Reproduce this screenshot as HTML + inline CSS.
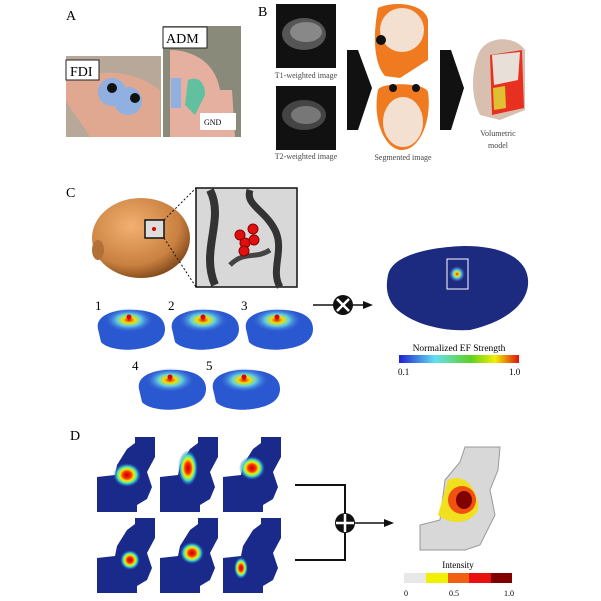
<!DOCTYPE html>
<html><head><meta charset="utf-8"><style>
html,body{margin:0;padding:0;background:#fff;}
svg{display:block;}
text{font-family:"Liberation Serif",serif;}
</style></head><body>
<svg width="601" height="601" viewBox="0 0 601 601" xmlns="http://www.w3.org/2000/svg">
<defs>
<linearGradient id="jet" x1="0" x2="1" y1="0" y2="0">
<stop offset="0" stop-color="#2020d0"/><stop offset="0.3" stop-color="#60e0f0"/><stop offset="0.6" stop-color="#60d020"/><stop offset="0.8" stop-color="#f0f000"/><stop offset="1" stop-color="#e01010"/>
</linearGradient>
<radialGradient id="head" cx="0.4" cy="0.35" r="0.7">
<stop offset="0" stop-color="#f2b070"/><stop offset="0.7" stop-color="#c98040"/><stop offset="1" stop-color="#7a4418"/>
</radialGradient>
<radialGradient id="hot" cx="0.5" cy="0.5" r="0.5">
<stop offset="0" stop-color="#c00000"/><stop offset="0.3" stop-color="#ff3000"/><stop offset="0.5" stop-color="#f0f000"/><stop offset="0.7" stop-color="#40e0c0"/><stop offset="1" stop-color="#3050e0" stop-opacity="0"/>
</radialGradient>
<radialGradient id="hot2" cx="0.5" cy="0.5" r="0.5">
<stop offset="0" stop-color="#e01010"/><stop offset="0.25" stop-color="#f0e000"/><stop offset="0.5" stop-color="#60d0e0"/><stop offset="1" stop-color="#4060e0" stop-opacity="0"/>
</radialGradient>
<g id="hm">
<path d="M0,40 L18,38 L20,28 L30,12 L38,6 L38,0 L58,0 L58,20 L50,35 L55,50 L50,62 L40,68 L40,75 L0,75 Z" fill="#1a2a8a"/>
</g>
<g id="brain">
<path d="M3,22 C0,8 20,2 38,3 C55,3 70,8 70,22 C70,34 58,40 42,42 C30,44 12,42 6,35 Z" fill="#2a58d0"/>
<ellipse cx="34" cy="13" rx="24" ry="12" fill="url(#hot2)"/>
<circle cx="34" cy="10" r="2.5" fill="#d00"/>
</g>
</defs>

<!-- Panel A -->
<text x="66" y="20" font-size="14">A</text>
<rect x="66" y="56" width="95" height="81" fill="#b8a89a"/>
<path d="M66,80 C100,70 130,68 160,90 L160,137 L90,137 C80,120 70,110 66,100 Z" fill="#e0a890"/>
<circle cx="112" cy="92" r="14" fill="#8fb0e0"/><circle cx="128" cy="101" r="14" fill="#8fb0e0"/>
<circle cx="112" cy="88" r="5" fill="#111"/><circle cx="135" cy="98" r="5" fill="#111"/>
<rect x="66" y="60" width="33" height="20" fill="#fff" stroke="#222"/>
<text x="70" y="76" font-size="14">FDI</text>
<rect x="163" y="26" width="78" height="111" fill="#8a8a7a"/>
<path d="M170,50 C190,50 215,60 220,90 L232,90 L235,137 L170,137 Z" fill="#e6b0a0"/>
<path d="M188,80 C200,75 205,85 205,95 L195,115 L185,105 Z" fill="#60c0a0"/>
<rect x="171" y="78" width="10" height="30" fill="#8fb0e0"/>
<rect x="163" y="27" width="44" height="21" fill="#fff" stroke="#222"/>
<text x="166" y="43" font-size="14">ADM</text>
<rect x="200" y="113" width="36" height="17" fill="#fff"/>
<text x="204" y="125" font-size="8">GND</text>

<!-- Panel B -->
<text x="258" y="16" font-size="14">B</text>
<rect x="276" y="4" width="60" height="64" fill="#111"/>
<ellipse cx="304" cy="34" rx="22" ry="16" fill="#555"/><ellipse cx="306" cy="32" rx="16" ry="10" fill="#888"/>
<text x="306" y="78" font-size="8" text-anchor="middle" fill="#444">T1-weighted image</text>
<rect x="276" y="86" width="60" height="64" fill="#111"/>
<ellipse cx="304" cy="115" rx="22" ry="15" fill="#444"/><ellipse cx="306" cy="115" rx="15" ry="9" fill="#777"/>
<text x="306" y="159" font-size="8" text-anchor="middle" fill="#444">T2-weighted image</text>
<polygon points="347,50 358,50 372,88 358,130 347,130 347,110 347,70" fill="#111"/>
<path d="M378,8 C395,0 425,4 428,20 L428,60 L400,78 L385,76 C375,65 372,40 378,8 Z" fill="#f07a20"/>
<ellipse cx="402" cy="30" rx="22" ry="22" fill="#f4e0d0"/>
<circle cx="381" cy="40" r="5" fill="#111"/>
<path d="M378,90 C380,82 425,82 428,92 C432,120 420,150 402,150 C385,150 372,120 378,90 Z" fill="#f07a20"/>
<ellipse cx="403" cy="122" rx="20" ry="25" fill="#f4e0d0"/>
<circle cx="393" cy="88" r="4" fill="#111"/><circle cx="416" cy="88" r="4" fill="#111"/>
<text x="403" y="160" font-size="8" text-anchor="middle" fill="#444">Segmented image</text>
<polygon points="440,50 451,50 464,88 451,130 440,130" fill="#111"/>
<path d="M478,55 C485,35 515,35 525,50 L525,110 L500,120 L480,115 C470,95 472,70 478,55 Z" fill="#d8c0b0"/>
<path d="M490,55 L522,50 L524,108 L492,115 Z" fill="#e83020"/>
<path d="M492,55 L520,52 L518,80 L494,85 Z" fill="#e8e0d8"/>
<path d="M493,88 L505,86 L506,108 L494,110 Z" fill="#e0c030"/>
<text x="498" y="136" font-size="8" text-anchor="middle" fill="#444">Volumetric</text>
<text x="498" y="148" font-size="8" text-anchor="middle" fill="#444">model</text>

<!-- Panel C -->
<text x="66" y="197" font-size="14">C</text>
<ellipse cx="141" cy="238" rx="49" ry="40" fill="url(#head)"/>
<ellipse cx="98" cy="250" rx="6" ry="10" fill="#b07038"/>
<rect x="145" y="220" width="19" height="18" fill="#ddd" stroke="#111" stroke-width="1.5"/>
<circle cx="154" cy="229" r="2" fill="#d00"/>
<line x1="164" y1="220" x2="196" y2="188" stroke="#111" stroke-dasharray="2,2"/>
<line x1="164" y1="238" x2="196" y2="287" stroke="#111" stroke-dasharray="2,2"/>
<rect x="196" y="188" width="101" height="99" fill="#d8d8d8" stroke="#111" stroke-width="1.5"/>
<path d="M210,190 C225,220 200,250 215,285" stroke="#333" stroke-width="8" fill="none"/>
<path d="M250,190 C245,205 265,210 275,230 C285,250 270,270 280,287" stroke="#333" stroke-width="7" fill="none"/>
<path d="M230,265 C245,250 255,260 270,250" stroke="#444" stroke-width="5" fill="none"/>
<circle cx="240" cy="235" r="5" fill="#e01010" stroke="#800" /><circle cx="245" cy="243" r="5" fill="#e01010" stroke="#800"/>
<circle cx="244" cy="251" r="5" fill="#e01010" stroke="#800"/><circle cx="253" cy="229" r="5" fill="#e01010" stroke="#800"/>
<circle cx="254" cy="240" r="5" fill="#e01010" stroke="#800"/>
<text x="95" y="310" font-size="13">1</text><text x="168" y="310" font-size="13">2</text><text x="241" y="310" font-size="13">3</text>
<use href="#brain" x="95" y="307"/><use href="#brain" x="169" y="307"/><use href="#brain" x="243" y="307"/>
<text x="132" y="370" font-size="13">4</text><text x="206" y="370" font-size="13">5</text>
<use href="#brain" x="136" y="367"/><use href="#brain" x="210" y="367"/>
<line x1="313" y1="305" x2="363" y2="305" stroke="#111" stroke-width="1.5"/>
<polygon points="373,305 363,301 363,309" fill="#111"/>
<circle cx="343" cy="305" r="10" fill="#111"/>
<line x1="337" y1="299" x2="349" y2="311" stroke="#fff" stroke-width="2.5"/>
<line x1="349" y1="299" x2="337" y2="311" stroke="#fff" stroke-width="2.5"/>
<path d="M388,275 C392,255 430,247 465,246 C505,246 530,260 528,285 C526,305 505,322 470,330 C435,332 405,320 393,305 C386,295 386,285 388,275 Z" fill="#1c2a80"/>
<ellipse cx="457" cy="274" rx="8" ry="8" fill="url(#hot2)"/>
<rect x="447" y="259" width="21" height="30" fill="none" stroke="#fff" stroke-width="1"/>
<text x="459" y="351" font-size="9.5" text-anchor="middle" font-family="Liberation Sans,sans-serif">Normalized EF Strength</text>
<rect x="399" y="355" width="120" height="8" fill="url(#jet)"/>
<text x="398" y="375" font-size="9">0.1</text><text x="509" y="375" font-size="9">1.0</text>

<!-- Panel D -->
<text x="70" y="440" font-size="14">D</text>
<g>
<use href="#hm" x="97" y="437"/><ellipse cx="127" cy="475" rx="14" ry="12" fill="url(#hot)"/>
<use href="#hm" x="160" y="437"/><ellipse cx="188" cy="468" rx="10" ry="18" fill="url(#hot)"/>
<use href="#hm" x="223" y="437"/><ellipse cx="252" cy="468" rx="13" ry="12" fill="url(#hot)"/>
<use href="#hm" x="97" y="518"/><ellipse cx="130" cy="560" rx="10" ry="10" fill="url(#hot)"/>
<use href="#hm" x="160" y="518"/><ellipse cx="192" cy="553" rx="12" ry="11" fill="url(#hot)"/>
<use href="#hm" x="223" y="518"/><ellipse cx="241" cy="568" rx="7" ry="11" fill="url(#hot)"/>
</g>
<polyline points="295,485 345,485 345,560 295,560" fill="none" stroke="#111" stroke-width="2"/>
<line x1="355" y1="523" x2="386" y2="523" stroke="#111" stroke-width="1.5"/>
<polygon points="394,523 384,519 384,527" fill="#111"/>
<circle cx="345" cy="523" r="10" fill="#111"/>
<line x1="336" y1="523" x2="354" y2="523" stroke="#fff" stroke-width="2.5"/>
<line x1="345" y1="514" x2="345" y2="532" stroke="#fff" stroke-width="2.5"/>
<path d="M465,447 L500,447 L498,470 L490,490 L495,515 L480,545 L465,550 L420,550 L420,525 L440,520 L445,480 L460,462 Z" fill="#d8d8d8" stroke="#999"/>
<path d="M448,480 C470,470 480,500 478,510 C470,525 450,525 438,515 Z" fill="#f0e020"/>
<ellipse cx="462" cy="500" rx="14" ry="14" fill="#f05010"/>
<ellipse cx="464" cy="500" rx="8" ry="9" fill="#800000"/>
<text x="458" y="568" font-size="9" text-anchor="middle">Intensity</text>
<rect x="404" y="573" width="22" height="10" fill="#e8e8e8"/><rect x="426" y="573" width="22" height="10" fill="#f0f000"/>
<rect x="448" y="573" width="21" height="10" fill="#f06010"/><rect x="469" y="573" width="22" height="10" fill="#e81010"/>
<rect x="491" y="573" width="21" height="10" fill="#800000"/>
<text x="404" y="596" font-size="8">0</text><text x="449" y="596" font-size="8">0.5</text><text x="504" y="596" font-size="8">1.0</text>
</svg>
</body></html>
